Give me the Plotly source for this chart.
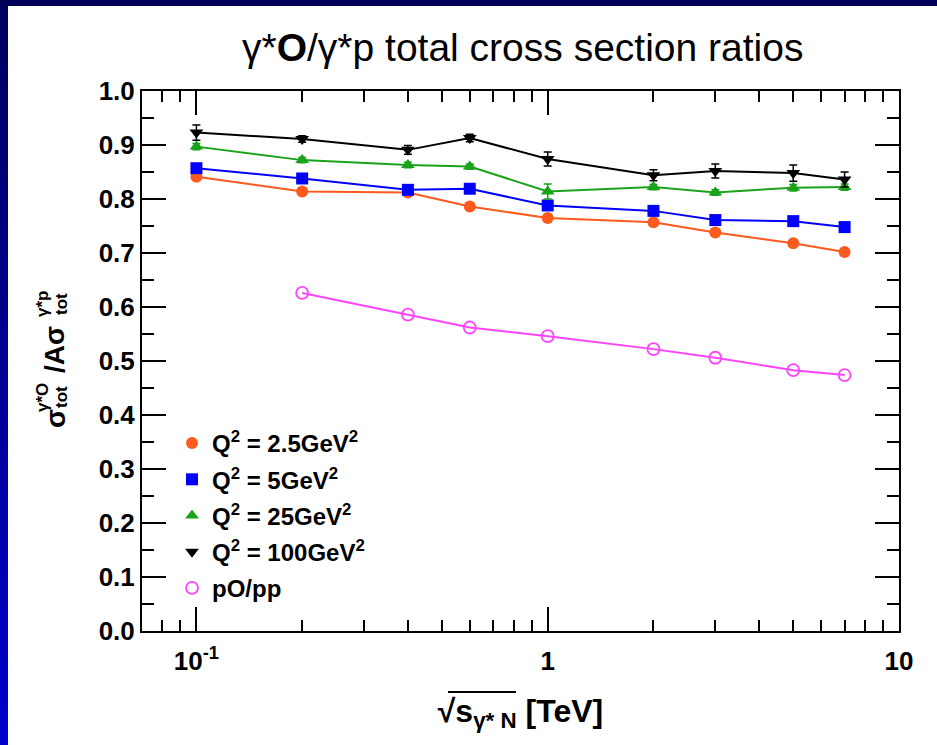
import base64
import plotly.graph_objects as go

# ---------------- data ----------------
sqrt_s = [0.1, 0.2, 0.4, 0.6, 1, 2, 3, 5, 7]
ratio_q2_2p5 = [0.841, 0.814, 0.812, 0.786, 0.765, 0.757, 0.738, 0.718, 0.702]
ratio_q2_5 = [0.857, 0.838, 0.817, 0.819, 0.788, 0.778, 0.761, 0.759, 0.748]
ratio_q2_25 = [0.897, 0.872, 0.863, 0.860, 0.814, 0.822, 0.812, 0.821, 0.822]
ratio_q2_100 = [0.923, 0.911, 0.891, 0.913, 0.874, 0.844, 0.852, 0.848, 0.836]
err_q2_2p5 = [0.003, 0.003, 0.003, 0.003, 0.003, 0.003, 0.003, 0.003, 0.003]
err_q2_5 = [0.003, 0.003, 0.003, 0.003, 0.004, 0.003, 0.003, 0.003, 0.004]
err_q2_25 = [0.006, 0.005, 0.005, 0.005, 0.014, 0.005, 0.005, 0.006, 0.006]
err_q2_100 = [0.014, 0.006, 0.008, 0.007, 0.013, 0.010, 0.013, 0.015, 0.014]

sqrt_s_pp = [0.2, 0.4, 0.6, 1, 2, 3, 5, 7]
ratio_po_pp = [0.626, 0.586, 0.562, 0.546, 0.522, 0.506, 0.483, 0.474]

legend_names = [
    "Q<sup>2</sup> = 2.5GeV<sup>2</sup>",
    "Q<sup>2</sup> = 5GeV<sup>2</sup>",
    "Q<sup>2</sup> = 25GeV<sup>2</sup>",
    "Q<sup>2</sup> = 100GeV<sup>2</sup>",
    "pO/pp",
]
y_ticks = [0.0, 0.1, 0.2, 0.3, 0.4, 0.5, 0.6, 0.7, 0.8, 0.9, 1.0]
x_ticks = [0.1, 1, 10]
x_ticktext = ["10<sup>-1</sup>", "1", "10"]
x_minor = [0.08, 0.09, 0.2, 0.3, 0.4, 0.5, 0.6, 0.7, 0.8, 0.9,
           2, 3, 4, 5, 6, 7, 8, 9]

# ---------------- styling ----------------
FONT = "Liberation Sans, Arial, sans-serif"
W, H = 937, 745
ML, MR, MT, MB = 142, 38, 91, 114
PW, PH = W - ML - MR, H - MT - MB


def px2paper(px, py):
    return (px - ML) / PW, (H - MB - py) / PH


series = [
    (ratio_q2_2p5, err_q2_2p5, "#FF5A1E", "circle", 12),
    (ratio_q2_5, err_q2_5, "#0000FF", "square", 12),
    (ratio_q2_25, err_q2_25, "#1AA31A", "triangle-up", 12),
    (ratio_q2_100, err_q2_100, "#000000", "triangle-down", 12),
]

fig = go.Figure()
for i, (vals, errs, col, sym, sz) in enumerate(series):
    fig.add_trace(go.Scatter(
        x=sqrt_s, y=vals, mode="lines+markers",
        line=dict(color=col, width=2),
        marker=dict(symbol=sym, size=sz, color=col),
        error_y=dict(type="data", array=errs, color=col, thickness=1.5, width=4),
        showlegend=False,
    ))
fig.add_trace(go.Scatter(
    x=sqrt_s_pp, y=ratio_po_pp, mode="lines+markers",
    line=dict(color="#FF44FF", width=2),
    marker=dict(symbol="circle-open", size=12, color="#FF44FF",
                line=dict(width=1.8, color="#FF44FF")),
    showlegend=False,
))

# legend-only entries (markers)
legend_styles = [(c, s, z) for (_, _, c, s, z) in series] + [("#FF44FF", "circle-open", 12)]
for i, (name, (col, sym, sz)) in enumerate(zip(legend_names, legend_styles)):
    fig.add_trace(go.Scatter(
        x=[None], y=[None], mode="markers", name=name,
        marker=dict(symbol=sym, size=sz, color=col,
                    line=dict(width=1.8, color=col) if "open" in sym else dict(width=0)),
        legendgroup=f"g{i}", showlegend=True,
    ))

# ---------------- background bands ----------------
grad_svg = (
    "<svg xmlns='http://www.w3.org/2000/svg' width='8' height='745' preserveAspectRatio='none'>"
    "<defs><linearGradient id='g' x1='0' y1='0' x2='0' y2='1'>"
    "<stop offset='0' stop-color='#00005E'/><stop offset='1' stop-color='#0000CC'/>"
    "</linearGradient></defs><rect width='8' height='745' fill='url(#g)'/></svg>"
)
grad_src = "data:image/svg+xml;base64," + base64.b64encode(grad_svg.encode()).decode()
gx0, gy0 = px2paper(0, 0)
gx1, gy1 = px2paper(8, H)
images = [dict(source=grad_src, xref="paper", yref="paper",
               x=gx0, y=gy0, sizex=gx1 - gx0, sizey=gy0 - gy1,
               xanchor="left", yanchor="top", sizing="stretch", layer="below")]

shapes = []
shapes.append(dict(type="rect", xref="paper", yref="paper",
                   x0=px2paper(0, 0)[0], x1=px2paper(W, 0)[0],
                   y0=px2paper(0, 6)[1], y1=px2paper(0, 0)[1],
                   fillcolor="#000058", line=dict(width=0), layer="below"))
# overline of the square root in the x-axis title
ox0, oy = px2paper(448, 692)
ox1, _ = px2paper(516, 692)
shapes.append(dict(type="line", xref="paper", yref="paper",
                   x0=ox0, x1=ox1, y0=oy, y1=oy,
                   line=dict(color="black", width=2)))

# ---------------- annotations (title, y label) ----------------
ann = []
tx, ty = px2paper(522, 47)
ann.append(dict(text="γ*<b>O</b>/γ*p total cross section ratios", x=tx, y=ty,
                xref="paper", yref="paper", showarrow=False,
                xanchor="center", yanchor="middle",
                font=dict(family=FONT, size=39, color="black")))


def rot(text, px, py, size, bold=True):
    x, y = px2paper(px, py)
    return dict(text=text, x=x, y=y, xref="paper", yref="paper", showarrow=False,
                textangle=-90, xanchor="center", yanchor="middle",
                font=dict(family=FONT, size=size, color="black",
                          weight="bold" if bold else "normal"))


ann += [
    rot("σ", 55, 419, 28),
    rot("γ*O", 42, 397, 17),
    rot("tot", 61, 397, 17),
    rot("/Aσ", 54, 350, 28),
    rot("γ*p", 42, 304, 17),
    rot("tot", 61, 304, 17),
]

fig.update_layout(
    width=W, height=H,
    margin=dict(l=ML, r=MR, t=MT, b=MB, pad=0),
    paper_bgcolor="white", plot_bgcolor="white",
    font=dict(family=FONT, color="black"),
    shapes=shapes, annotations=ann, images=images,
    legend=dict(x=px2paper(172, 0)[0], y=px2paper(0, 421)[1],
                xanchor="left", yanchor="top",
                bgcolor="rgba(0,0,0,0)", tracegroupgap=2,
                font=dict(family=FONT, size=24, color="black", weight="bold")),
)

fig.update_xaxes(
    type="log", range=[-1.1549, 1.0],
    tickmode="array", tickvals=x_ticks, ticktext=x_ticktext,
    ticks="inside", ticklen=24, tickwidth=1.5, tickcolor="black",
    minor=dict(tickmode="array", tickvals=x_minor, ticks="inside",
               ticklen=11, tickwidth=1.5, tickcolor="black", showgrid=False),
    showline=True, linecolor="black", linewidth=2, mirror="ticks",
    showgrid=False, zeroline=False,
    tickfont=dict(family=FONT, size=26, weight="bold"),
    ticklabelstandoff=6,
    title=dict(text="√s<sub>γ* N</sub> [TeV]",
               font=dict(family=FONT, size=32, weight="bold"), standoff=24),
)
fig.update_yaxes(
    range=[0, 1.0],
    tickmode="array", tickvals=y_ticks, ticktext=[f"{v:.1f}" for v in y_ticks],
    ticks="inside", ticklen=24, tickwidth=1.5, tickcolor="black",
    minor=dict(dtick=0.05, tick0=0, ticks="inside", ticklen=12,
               tickwidth=1.5, tickcolor="black", showgrid=False),
    showline=True, linecolor="black", linewidth=2, mirror="ticks",
    showgrid=False, zeroline=False,
    tickfont=dict(family=FONT, size=26, weight="bold"),
)

fig.write_html("out.html")
